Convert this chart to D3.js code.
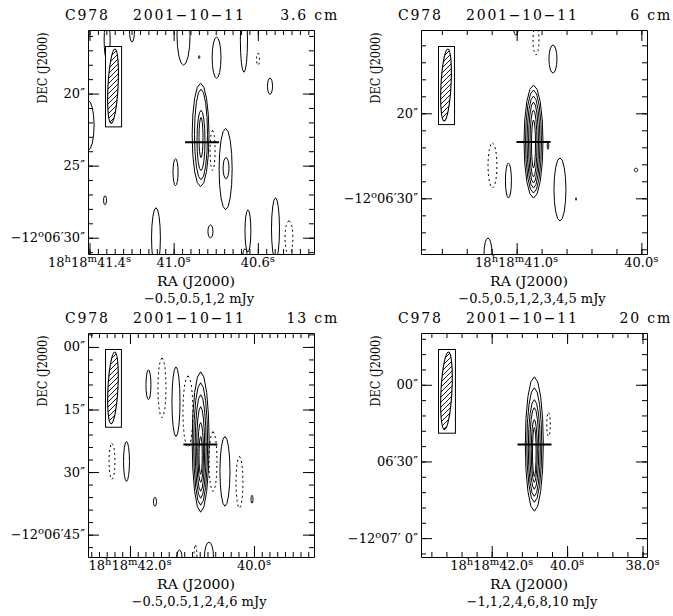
<!DOCTYPE html>
<html><head><meta charset="utf-8">
<script src="https://cdn.jsdelivr.net/npm/d3@7"></script>
<style>
body{margin:0;background:#fff;}
svg text{font-family:"DejaVu Serif",serif;fill:#000;}
</style></head><body>
<svg id="chart" width="673" height="616"></svg>
<script>
// ---------- data (RA = seconds of 18h18m, Dec = arcsec south of -12°06'00") ----------
const objectName = "C978";
const obsDate = "2001−10−11";
const bands = ["3.6 cm", "6 cm", "13 cm", "20 cm"];
const levelText = ["−0.5,0.5,1,2 mJy", "−0.5,0.5,1,2,3,4,5 mJy", "−0.5,0.5,1,2,4,6 mJy", "−1,1,2,4,6,8,10 mJy"];
const raDomains = [[41.407, 40.333], [41.767, 39.955], [42.677, 39.032], [43.875, 37.881]];
const decDomains = [[15.59, 31.13], [10.2, 36.55], [-3.34, 50.36], [-20.26, 67.39]];
const decMinorStep = [1, 2, 3, 6];
const decMajor = [[20, 25, 30], [20, 30], [0, 15, 30, 45], [0, 30, 60]];
const decLabels = [["20″", "25″", "−12°06′30″"], ["20″", "−12°06′30″"], ["00″", "15″", "30″", "−12°06′45″"], ["00″", "06′30″", "−12°07′ 0″"]];
const raMinorStep = [0.04, 0.2, 0.125, 0.4];
const raMajor = [[41.4, 41.0, 40.6], [41.0, 40.0], [42.0, 40.0], [42.0, 40.0, 38.0]];
const raLabels = [["18h18m41.4s", "41.0s", "40.6s"], ["18h18m41.0s", "40.0s"], ["18h18m42.0s", "40.0s"], ["18h18m42.0s", "40.0s", "38.0s"]];
// beam: half major axis ("), half minor axis ("), position angle (deg)
const beams = [[2.58, 0.35, 3], [4.24, 0.59, 3], [8.6, 1.19, 3], [15.2, 2.14, 3]];
const sourcePos = [40.865, 23.37];
// contour components: [RA, Dec, half-width (s), half-height ("), sign (+1 solid, -1 dashed)]
const contours36 = [
  [41.316, 16.29, .0143, 1.39, 1], [41.198, 15.59, .012, .84, 1], [40.953, 15.94, .031, 2.09, 1],
  [40.879, 17.47, .003, .1, 1], [40.796, 17.51, .021, 1.43, 1], [40.666, 16.29, .017, 2.23, 1],
  [40.599, 17.61, .007, .42, -1], [40.542, 19.49, .012, .56, 1], [41.407, 22.21, .029, 1.74, 1],
  [40.872, 22.87, .040, 3.59, 1], [40.870, 22.84, .031, 3.14, 1], [40.870, 23.25, .019, 2.09, 1],
  [40.870, 23.05, .0095, 1.39, 1], [40.815, 23.95, .012, 1.39, -1], [40.753, 25.24, .031, 2.82, 1],
  [40.751, 25.17, .014, .73, 1], [40.991, 25.45, .012, .94, 1], [41.326, 27.40, .007, .31, 1],
  [41.084, 30.01, .021, 2.09, 1], [40.825, 29.56, .012, .45, 1], [40.647, 29.53, .014, 1.46, 1],
  [40.661, 31.13, .0095, .35, 1], [40.516, 29.39, .019, 2.16, 1], [40.452, 30.01, .019, 1.18, -1]
];
const contours6 = [
  [40.845, 11.38, .024, 1.76, -1], [40.709, 13.61, .032, 1.65, 1], [41.006, 10.2, .016, .6, 1],
  [40.865, 23.32, .076, 6.65, 1], [40.865, 23.32, .064, 6.06, 1], [40.865, 23.38, .052, 5.41, 1],
  [40.865, 23.44, .040, 4.76, 1], [40.865, 23.55, .028, 3.94, 1], [40.865, 23.61, .016, 2.82, 1],
  [40.749, 23.85, .006, .4, 1], [41.194, 26.14, .036, 2.65, -1], [41.066, 27.91, .024, 2.06, 1],
  [40.653, 28.96, .048, 3.71, 1], [40.524, 30.08, .004, .15, 1], [40.043, 26.67, .014, .21, 1],
  [41.230, 36.55, .032, 1.88, 1]
];
const contours13 = [
  [41.702, 9.07, .040, 3.58, 1], [41.484, 9.79, .065, 7.16, -1], [41.258, 13.13, .065, 8.35, 1],
  [41.065, 15.51, .081, 8.59, -1], [40.86, 22.79, .137, 16.83, 1], [40.86, 23.27, .113, 14.68, 1],
  [40.86, 23.87, .089, 12.41, 1], [40.86, 24.46, .065, 10.14, 1], [40.86, 25.30, .045, 7.16, 1],
  [40.86, 26.01, .026, 4.53, 1], [40.661, 27.45, .065, 7.16, -1], [40.468, 29.83, .081, 8.35, 1],
  [40.234, 32.46, .056, 6.21, -1], [40.032, 36.52, .016, .95, 1], [41.597, 37.11, .024, 1.07, 1],
  [42.29, 27.45, .048, 4.3, -1], [42.056, 27.45, .048, 4.77, 1], [41.202, 50.36, .040, 1.67, 1],
  [40.944, 50.36, .024, 2.86, -1], [40.726, 50.36, .073, 3.58, 1]
];
const contours20 = [
  [40.87, 23.18, .239, 26.3, 1], [40.87, 23.57, .199, 22.4, 1], [40.87, 24.74, .159, 18.9, 1],
  [40.87, 24.93, .119, 15.97, 1], [40.87, 25.91, .080, 12.27, 1], [40.87, 26.30, .048, 9.54, 1],
  [40.493, 15.58, .048, 4.67, -1]
];
const contourSets = [contours36, contours6, contours13, contours20];

// ---------- layout ----------
const svg = d3.select("#chart");
const W = 226, H = 224;
const frames = [[88, 30], [421, 30], [88, 333], [421, 333]];

function stepTicks(domain, step) {
  const lo = Math.min(...domain), hi = Math.max(...domain);
  const a = Math.ceil(lo / step - 1e-6), b = Math.floor(hi / step + 1e-6);
  return d3.range(a, b + 1).map(k => +(k * step).toFixed(6));
}
function addParts(text, parts) {
  let sup = false;
  parts.forEach(([s, isSup]) => {
    const t = text.append("tspan").text(s);
    if (isSup && !sup) { t.attr("dy", -5).attr("font-size", 10); sup = true; }
    else if (isSup && sup) { t.attr("font-size", 10); }
    else if (!isSup && sup) { t.attr("dy", 5); sup = false; }
  });
}
function raParts(lbl) {
  const out = [];
  const re = /([\d.]+)([hms])/g; let m;
  while ((m = re.exec(lbl))) { out.push([m[1], false]); out.push([m[2], true]); }
  return out;
}
function decParts(lbl) {
  const i = lbl.indexOf("°");
  if (i < 0) return [[lbl, false]];
  return [[lbl.slice(0, i), false], ["o", true], [lbl.slice(i + 1), false]];
}
const line = d3.line().curve(d3.curveLinearClosed);

bands.forEach((band, i) => {
  const [fx, fy] = frames[i];
  const xs = d3.scaleLinear().domain(raDomains[i]).range([fx, fx + W]);
  const ys = d3.scaleLinear().domain(decDomains[i]).range([fy, fy + H]);
  const g = svg.append("g");
  const clipId = "clip" + i;
  svg.append("clipPath").attr("id", clipId).append("rect")
    .attr("x", fx).attr("y", fy).attr("width", W).attr("height", H);

  // contours
  const cg = g.append("g").attr("clip-path", `url(#${clipId})`);
  contourSets[i].forEach(([ra, dec, hr, hd, sgn]) => {
    const cx = xs(ra), cy = ys(dec);
    const rx = Math.abs(xs(ra + hr) - cx), ry = Math.abs(ys(dec + hd) - cy);
    const n = 16;
    const pts = d3.range(n).map(k => {
      const t = 2 * Math.PI * k / n;
      return [cx + rx * Math.sin(t), cy - ry * Math.cos(t)];
    });
    cg.append("path").attr("d", line(pts)).attr("fill", "none").attr("stroke", "#000")
      .attr("stroke-width", 1).attr("stroke-dasharray", sgn < 0 ? "2,3" : null);
  });

  // beam box
  const k = Math.abs(ys(1) - ys(0));
  const [bmaj, bmin, pa] = beams[i];
  const rx = bmin * k, ry = bmaj * k;
  const bw = 2 * rx + 6, bh = 2 * ry + 6;
  const bx = fx + 17, by = fy + 16;
  const bcx = bx + bw / 2, bcy = by + bh / 2;
  g.append("rect").attr("x", bx + 0.5).attr("y", by + 0.5).attr("width", bw).attr("height", bh)
    .attr("fill", "#fff").attr("stroke", "#000").attr("stroke-width", 1);
  const bclip = "bclip" + i;
  svg.append("clipPath").attr("id", bclip).append("ellipse")
    .attr("cx", bcx).attr("cy", bcy).attr("rx", rx).attr("ry", ry)
    .attr("transform", `rotate(${pa},${bcx},${bcy})`);
  const hg = g.append("g").attr("clip-path", `url(#${bclip})`);
  for (let yy = by - 20; yy < by + bh + 20; yy += 5) {
    hg.append("line").attr("x1", bcx - rx - 2).attr("y1", yy)
      .attr("x2", bcx + rx + 2).attr("y2", yy - (2 * rx + 4))
      .attr("stroke", "#000").attr("stroke-width", 0.9);
  }
  g.append("ellipse").attr("cx", bcx).attr("cy", bcy).attr("rx", rx).attr("ry", ry)
    .attr("transform", `rotate(${pa},${bcx},${bcy})`)
    .attr("fill", "none").attr("stroke", "#000").attr("stroke-width", 1.1);

  // source marker (horizontal bar)
  const sx = xs(sourcePos[0]), sy = ys(sourcePos[1]);
  g.append("line").attr("x1", sx - 17).attr("x2", sx + 17).attr("y1", sy).attr("y2", sy)
    .attr("stroke", "#000").attr("stroke-width", 2);

  // axes (ticks inward on all four sides)
  const raMinor = stepTicks(raDomains[i], raMinorStep[i]);
  const deMinor = stepTicks(decDomains[i], decMinorStep[i]);
  const axes = [
    [d3.axisBottom(xs), `translate(0,${fy + H})`, raMinor, raMajor[i]],
    [d3.axisTop(xs), `translate(0,${fy})`, raMinor, raMajor[i]],
    [d3.axisLeft(ys), `translate(${fx},0)`, deMinor, decMajor[i]],
    [d3.axisRight(ys), `translate(${fx + W},0)`, deMinor, decMajor[i]]
  ];
  axes.forEach(([ax, tr, minor, major]) => {
    g.append("g").attr("transform", tr)
      .call(ax.tickValues(minor).tickSize(-5).tickSizeOuter(0).tickFormat(""));
    const mg = g.append("g").attr("transform", tr)
      .call(ax.tickValues(major).tickSize(-11).tickSizeOuter(0).tickFormat(""));
    mg.select(".domain").remove();
  });

  // RA tick labels
  raMajor[i].forEach((v, j) => {
    const t = g.append("text").attr("x", xs(v)).attr("y", fy + H + 13)
      .attr("text-anchor", "middle").attr("font-size", 13);
    addParts(t, raParts(raLabels[i][j]));
  });
  // Dec tick labels
  decMajor[i].forEach((v, j) => {
    const t = g.append("text").attr("x", fx - 3).attr("y", ys(v) + 4.5)
      .attr("text-anchor", "end").attr("font-size", 13);
    addParts(t, decParts(decLabels[i][j]));
  });

  // axis titles
  g.append("text").attr("x", fx + W / 2 - 5).attr("y", fy + H + 32).attr("text-anchor", "middle")
    .attr("font-size", 13).attr("textLength", 78).attr("lengthAdjust", "spacingAndGlyphs").text("RA (J2000)");
  g.append("text").attr("x", fx + W / 2 - 2).attr("y", fy + H + 49).attr("text-anchor", "middle")
    .attr("font-size", 13).text(levelText[i]);
  g.append("text").attr("transform", `translate(${fx - 41},${fy + 38}) rotate(-90)`)
    .attr("text-anchor", "middle").attr("font-size", 13)
    .attr("textLength", 71).attr("lengthAdjust", "spacingAndGlyphs").text("DEC (J2000)");

  // panel title
  const ty = fy - 10;
  g.append("text").attr("x", fx - 23).attr("y", ty).attr("font-size", 14)
    .attr("letter-spacing", 1.8).text(objectName);
  g.append("text").attr("x", fx + 45).attr("y", ty).attr("font-size", 14)
    .attr("letter-spacing", 1.8).text(obsDate);
  g.append("text").attr("x", fx + 251).attr("y", ty).attr("font-size", 14).attr("text-anchor", "end")
    .attr("letter-spacing", 1.8).text(band);
});
</script>
</body></html>
